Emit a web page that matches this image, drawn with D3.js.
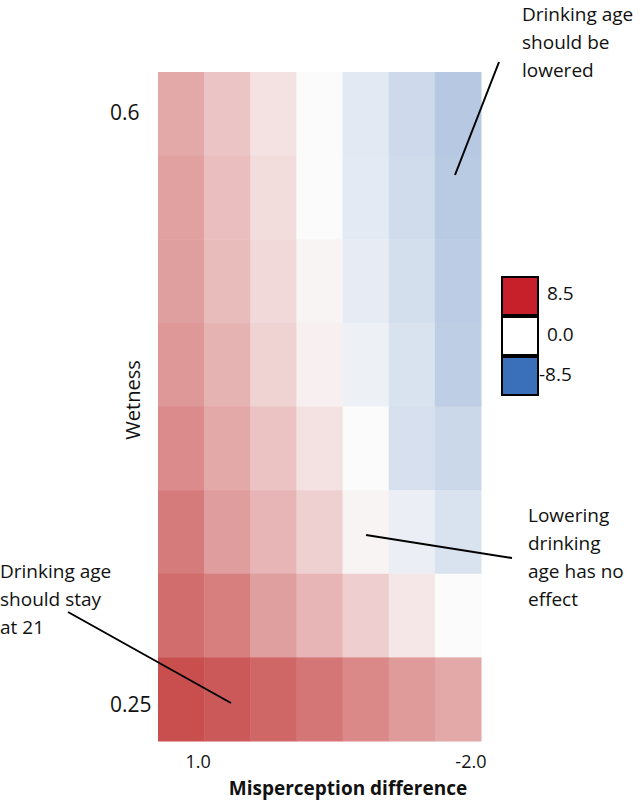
<!DOCTYPE html>
<html><head><meta charset="utf-8">
<script src="https://cdn.jsdelivr.net/npm/d3@7"></script>
<style>body{margin:0;background:#fff}text{font-family:"Open Sans",sans-serif;fill:#111}</style>
</head><body><svg id="c" width="643" height="804"></svg>
<script>
const misperception = [1.0, 0.5, 0.0, -0.5, -1.0, -1.5, -2.0];
const wetness = [0.6, 0.55, 0.5, 0.45, 0.4, 0.35, 0.3, 0.25];
// effect values, rows = wetness (top to bottom), cols = misperception
const effect = [
  [3.7, 2.4, 1.1, 0.0, -1.1, -2.0, -3.0],
  [4.0, 2.7, 1.4, 0.0, -1.0, -1.9, -2.9],
  [4.1, 2.8, 1.5, 0.3, -0.9, -1.7, -2.8],
  [4.4, 3.2, 1.8, 0.5, -0.6, -1.5, -2.7],
  [5.0, 3.7, 2.5, 1.1, 0.0, -1.6, -2.1],
  [5.7, 4.2, 3.1, 1.9, 0.3, -0.7, -1.5],
  [6.3, 5.5, 4.1, 3.1, 2.0, 0.9, 0.0],
  [7.7, 7.2, 6.6, 5.9, 5.1, 4.3, 3.7]
];
const xTickLabels = ["1.0", "-2.0"];
const yTickLabels = ["0.6", "0.25"];
const legendValues = [8.5, 0.0, -8.5];
const legendLabels = ["8.5", "0.0", "-8.5"];

const svg = d3.select("#c");
const x = d3.scaleBand().domain(misperception).range([158, 481]);
const y = d3.scaleBand().domain(wetness).range([72, 741]);
const color = d3.scaleLinear().domain([-8.5, 0, 8.5]).range(["#3a6db5", "#fbfbfb", "#c43c3c"]);

const cells = [];
wetness.forEach((w, i) => misperception.forEach((m, j) => cells.push({w, m, v: effect[i][j]})));
svg.append("g").selectAll("rect").data(cells).join("rect")
  .attr("x", d => x(d.m)).attr("y", d => y(d.w))
  .attr("width", x.bandwidth() + 0.5).attr("height", y.bandwidth() + 0.5)
  .attr("fill", d => color(d.v));

// y tick labels
svg.append("g").selectAll("text").data(yTickLabels).join("text")
  .attr("x", 110).attr("y", (d, i) => i === 0 ? 120 : 712)
  .attr("font-size", 21).text(d => d);
// x tick labels
svg.append("g").selectAll("text").data(xTickLabels).join("text")
  .attr("x", (d, i) => x(+d) + x.bandwidth() / 2 + (i === 0 ? 17 : 13))
  .attr("y", 768).attr("text-anchor", "middle").attr("font-size", 18).text(d => d);

svg.append("text").attr("x", 348).attr("y", 795).attr("text-anchor", "middle")
  .attr("font-size", 19).attr("font-weight", "bold").text("Misperception difference");
svg.append("text").attr("transform", "translate(140,400) rotate(-90)").attr("text-anchor", "middle")
  .attr("font-size", 20).text("Wetness");

// legend
const ly = d3.scaleBand().domain(legendValues).range([276, 396]);
const lg = svg.append("g");
lg.append("rect").attr("x", 501).attr("y", 276).attr("width", 38).attr("height", 120).attr("fill", "#000");
lg.selectAll("rect.sw").data(legendValues).join("rect").attr("class", "sw")
  .attr("x", 503).attr("y", d => ly(d) + 2).attr("width", 34).attr("height", ly.bandwidth() - 4)
  .attr("fill", d => d > 0 ? "#c8202a" : d < 0 ? "#3a6fba" : "#ffffff");
lg.selectAll("text").data(legendLabels).join("text")
  .attr("x", (d, i) => i === 2 ? 539 : 547).attr("y", (d, i) => [300, 341, 381][i])
  .attr("font-size", 19).text(d => d);

// annotations
function note(lines, xx, yy) {
  const t = svg.append("text").attr("font-size", 19);
  lines.forEach((l, i) => t.append("tspan").attr("x", xx).attr("y", yy + i * 28).text(l));
}
note(["Drinking age", "should be", "lowered"], 522, 21);
note(["Lowering", "drinking", "age has no", "effect"], 528, 522);
note(["Drinking age", "should stay", "at 21"], 0, 578);
const lines = [[499, 62, 455, 175], [366, 535, 512, 558], [68, 612, 231, 703]];
svg.append("g").selectAll("line").data(lines).join("line")
  .attr("x1", d => d[0]).attr("y1", d => d[1]).attr("x2", d => d[2]).attr("y2", d => d[3])
  .attr("stroke", "#000").attr("stroke-width", 2);
</script></body></html>
